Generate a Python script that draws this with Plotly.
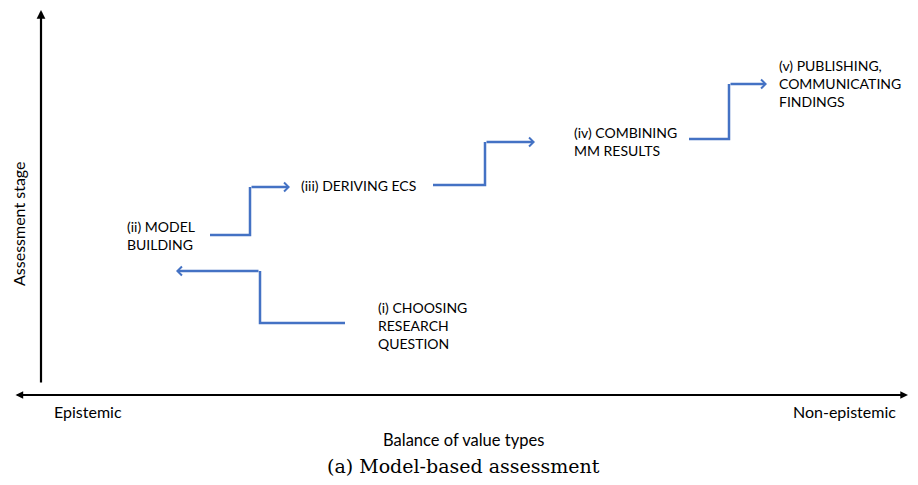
import plotly.graph_objects as go

# Diagram coordinates (screen-pixel-like canvas space, y downward)
stage_labels = ["(i) CHOOSING<br>RESEARCH<br>QUESTION",
                "(ii) MODEL<br>BUILDING",
                "(iii) DERIVING ECS",
                "(iv) COMBINING<br>MM RESULTS",
                "(v) PUBLISHING,<br>COMMUNICATING<br>FINDINGS"]
label_x = [376, 125, 299, 572, 777]
label_y = [296.5, 216, 174.5, 121.5, 55]

# step arrows: each is a list of vertices, last one is the arrow tip
path_x = [[345, 260, 260, 176],
          [210, 250, 250, 290],
          [433, 485, 485, 535],
          [689, 729, 729, 767]]
path_y = [[323, 323, 271, 271],
          [235, 235, 187, 187],
          [185, 185, 142, 142],
          [139, 139, 84, 84]]

yaxis_x = [41, 41]
yaxis_y = [384, 10]
xaxis_x = [14, 908]
xaxis_y = [395, 395]

blue = "#4472C4"
font_family = "Lato, 'Open Sans', sans-serif"

fig = go.Figure()

for px, py in zip(path_x, path_y):
    fig.add_trace(go.Scatter(x=px[:-1], y=py[:-1], mode="lines",
                             line=dict(color=blue, width=2.5),
                             hoverinfo="skip", showlegend=False))
    fig.add_annotation(x=px[-1], y=py[-1], ax=px[-2], ay=py[-2],
                       xref="x", yref="y", axref="x", ayref="y",
                       text="", showarrow=True, arrowhead=4, arrowsize=0.7,
                       arrowwidth=2.5, arrowcolor=blue, standoff=0)

# axes arrows
fig.add_annotation(x=yaxis_x[1], y=yaxis_y[1], ax=yaxis_x[0], ay=yaxis_y[0],
                   xref="x", yref="y", axref="x", ayref="y", text="",
                   showarrow=True, arrowhead=2, arrowsize=0.8, arrowwidth=2.2,
                   arrowcolor="black", standoff=0)
fig.add_annotation(x=xaxis_x[1], y=xaxis_y[1], ax=xaxis_x[0], ay=xaxis_y[0],
                   xref="x", yref="y", axref="x", ayref="y", text="",
                   showarrow=True, arrowhead=2, arrowsize=0.7, arrowwidth=2.2,
                   arrowside="end+start", startarrowhead=2, startarrowsize=0.7,
                   arrowcolor="black", standoff=0, startstandoff=0)

for t, lx, ly in zip(stage_labels, label_x, label_y):
    fig.add_annotation(x=lx, y=ly, text=t, showarrow=False, xanchor="left",
                       yanchor="top", align="left",
                       font=dict(family=font_family, size=14, color="black"))

fig.add_annotation(x=18, y=224, text="Assessment stage", showarrow=False,
                   textangle=-90, borderpad=0,
                   font=dict(family=font_family, size=16, color="black"))
fig.add_annotation(x=52, y=411, text="Epistemic", showarrow=False, xanchor="left",
                   font=dict(family=font_family, size=16, color="black"))
fig.add_annotation(x=898, y=411, text="Non-epistemic", showarrow=False, xanchor="right",
                   font=dict(family=font_family, size=16, color="black"))
fig.add_annotation(x=463, y=440, text="Balance of value types", showarrow=False,
                   font=dict(family=font_family, size=16.5, color="black"))
fig.add_annotation(x=463, y=466, text="(a) Model-based assessment", showarrow=False,
                   font=dict(family="'DejaVu Serif', serif", size=19, color="black"))

fig.update_layout(width=902, height=469, margin=dict(l=0, r=0, t=0, b=0),
                  plot_bgcolor="white", paper_bgcolor="white",
                  xaxis=dict(range=[8, 910], visible=False, fixedrange=True),
                  yaxis=dict(range=[477, 8], visible=False, fixedrange=True))

fig.write_html("out.html")
